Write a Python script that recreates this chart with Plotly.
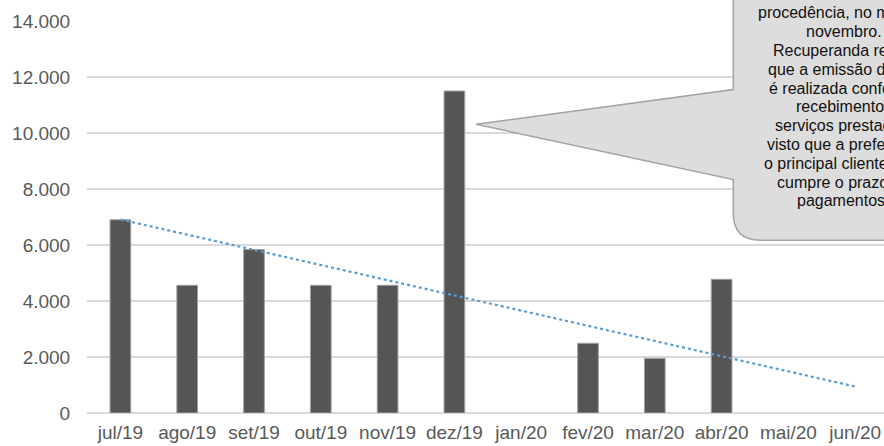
import numpy as np
import plotly.graph_objects as go

# ---- data ----
months = ["jul/19", "ago/19", "set/19", "out/19", "nov/19", "dez/19",
          "jan/20", "fev/20", "mar/20", "abr/20", "mai/20", "jun/20"]
values = [6900, 4560, 5840, 4560, 4560, 11500, 0, 2490, 1950, 4775, 0, 0]
y_ticks = [0, 2000, 4000, 6000, 8000, 10000, 12000, 14000]
callout_lines = [
    "procedência, no mês de",
    "novembro.",
    "Recuperanda relata",
    "que a emissão de NF",
    "é realizada conforme",
    "recebimentos",
    "serviços prestados,",
    "visto que a prefeitura,",
    "o principal cliente, não",
    "cumpre o prazo de",
    "pagamentos.",
]

# ---- geometry (screen pixels) ----
W, H = 884, 446
PLOT_L, PLOT_R, PLOT_T, PLOT_B = 87, 884, 20.7, 412.7
ML, MR, MT, MB = PLOT_L, W - PLOT_R, PLOT_T, H - PLOT_B
PW, PH = PLOT_R - PLOT_L, PLOT_B - PLOT_T
CAT_PX = 66.8

def px(xs):
    return (xs - PLOT_L) / PW

def py(ys):
    return (PLOT_B - ys) / PH

# linear trendline (least squares, like Excel)
idx = np.arange(len(values))
slope, intercept = np.polyfit(idx, values, 1)
trend = slope * idx + intercept

fig = go.Figure()
fig.add_trace(go.Bar(
    x=months, y=values,
    marker=dict(color="#555555",
                line=dict(color="#a0a0a0", width=[1 if v > 0 else 0 for v in values])),
    showlegend=False, hoverinfo="skip",
))
fig.add_trace(go.Scatter(
    x=months, y=trend, mode="lines",
    line=dict(color="#5b9bd5", width=2.2, dash="dot"),
    showlegend=False, hoverinfo="skip",
))

# callout (rounded box with pointer)
L, B, R, T = 733.3, 240, 980, -40
rad = 27
tip = (476, 124)
p_top, p_bot = 89.3, 179.3
path = (
    f"M {px(L)},{py(T)} "
    f"L {px(L)},{py(p_top)} "
    f"L {px(tip[0])},{py(tip[1])} "
    f"L {px(L)},{py(p_bot)} "
    f"L {px(L)},{py(B - rad)} "
    f"Q {px(L)},{py(B)} {px(L + rad)},{py(B)} "
    f"L {px(R)},{py(B)} "
    f"L {px(R)},{py(T)} Z"
)
fig.add_shape(type="path", path=path, xref="paper", yref="paper",
              fillcolor="#dddddd", line=dict(color="#a3a3a3", width=1.5),
              layer="above")

cx = 843.9
for i, t in enumerate(callout_lines):
    fig.add_annotation(
        text=t, xref="paper", yref="paper",
        x=px(cx), y=py(12.5 + 18.8 * i),
        xanchor="center", yanchor="middle", showarrow=False,
        font=dict(family="Liberation Sans, Arial, sans-serif", size=16, color="#111111"),
    )

fig.update_layout(
    width=W, height=H,
    margin=dict(l=ML, r=MR, t=MT, b=MB, pad=0),
    paper_bgcolor="white", plot_bgcolor="white",
    separators=",.",
    bargap=0.69,
    font=dict(family="Liberation Sans, Arial, sans-serif", size=19, color="#595959"),
    xaxis=dict(
        type="category", range=[-0.5, -0.5 + PW / CAT_PX],
        showgrid=False, showline=False, zeroline=False,
        ticks="outside", ticklen=2, tickcolor="rgba(0,0,0,0)",
        tickfont=dict(size=19, color="#595959"),
    ),
    yaxis=dict(
        range=[0, 14000], tickvals=y_ticks, tickformat=",d",
        showgrid=True, gridcolor="#d9d9d9", gridwidth=1.3,
        zeroline=True, zerolinecolor="#d9d9d9", zerolinewidth=1.5,
        showline=False,
        ticks="outside", ticklen=12, tickcolor="rgba(0,0,0,0)",
        tickfont=dict(size=19, color="#595959"),
    ),
)

fig.write_html("out.html",
               config={"displayModeBar": False, "staticPlot": True},
               post_script="document.body.style.margin='0';document.body.style.overflow='hidden';")
